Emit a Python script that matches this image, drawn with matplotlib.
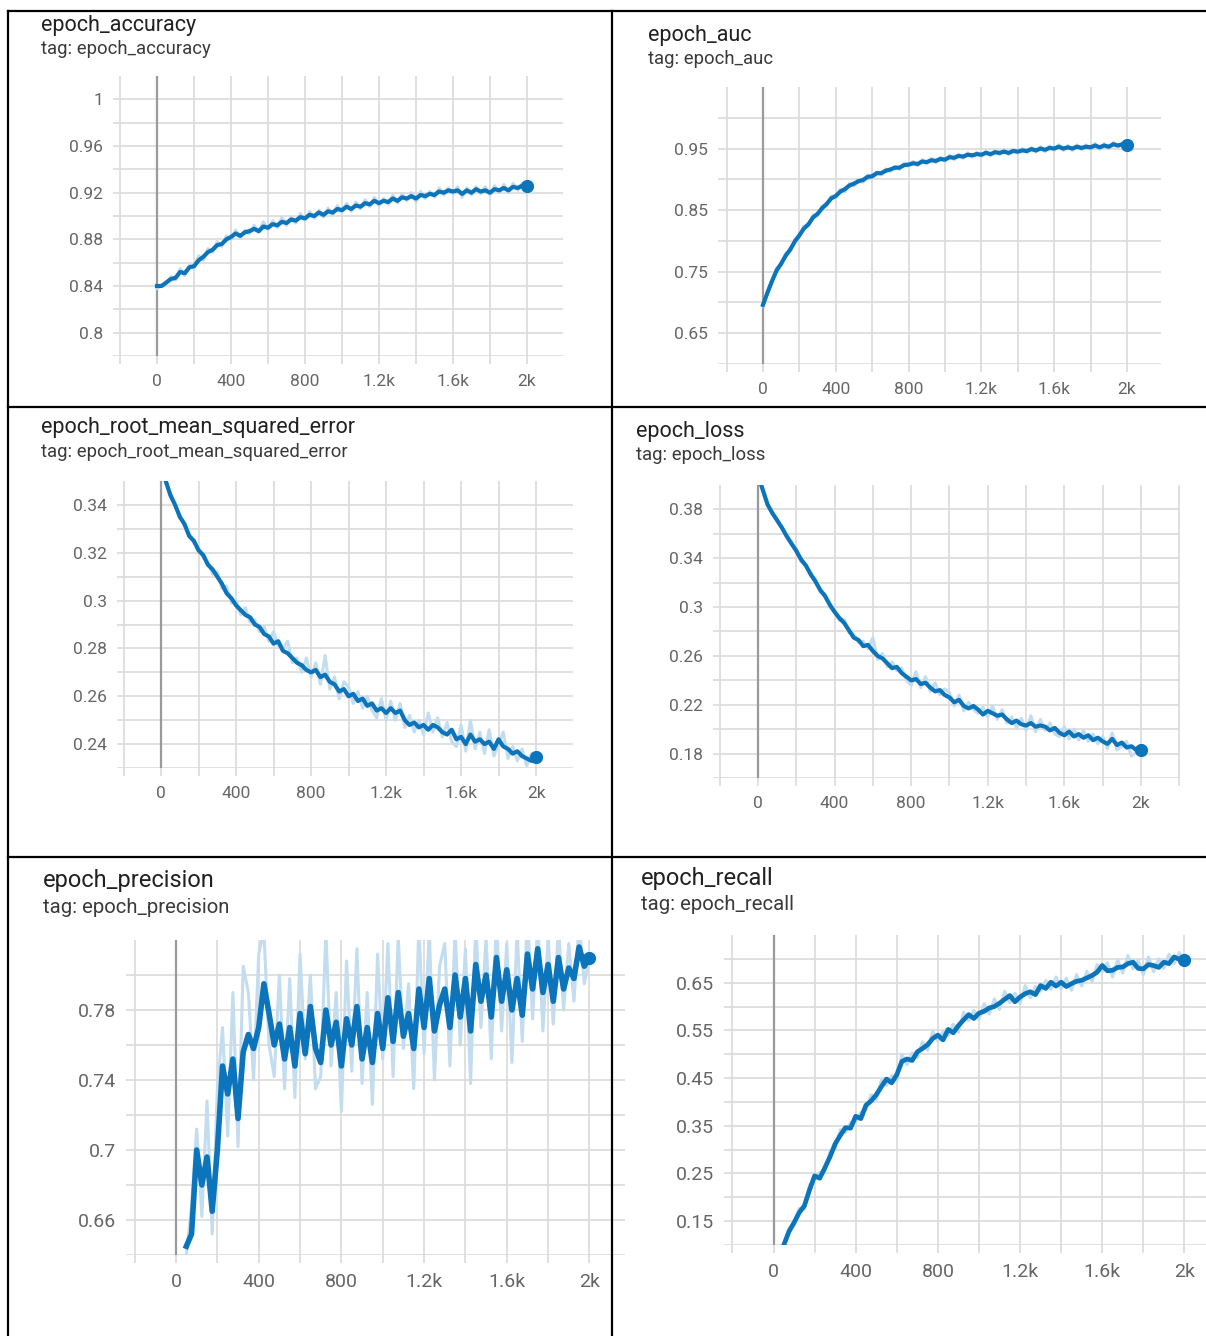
import matplotlib.pyplot as plt
from matplotlib.lines import Line2D

plt.rcParams['font.family'] = ['Roboto', 'DejaVu Sans']

# steps of the logged points
steps = list(range(0, 2001, 25))
steps_late = list(range(50, 2001, 25))

# epoch_accuracy (smoothed / raw)
acc_smooth = [0.840, 0.840, 0.843, 0.846, 0.847, 0.852, 0.851, 0.856, 0.857, 0.862,
              0.865, 0.869, 0.871, 0.875, 0.876, 0.880, 0.882, 0.885, 0.883, 0.886,
              0.887, 0.889, 0.887, 0.891, 0.890, 0.893, 0.892, 0.895, 0.894, 0.897,
              0.896, 0.899, 0.898, 0.901, 0.900, 0.903, 0.901, 0.904, 0.903, 0.906,
              0.905, 0.908, 0.906, 0.909, 0.908, 0.911, 0.910, 0.913, 0.911, 0.913,
              0.912, 0.915, 0.913, 0.916, 0.915, 0.917, 0.915, 0.918, 0.917, 0.919,
              0.918, 0.921, 0.920, 0.922, 0.921, 0.922, 0.919, 0.922, 0.920, 0.923,
              0.921, 0.922, 0.920, 0.923, 0.922, 0.924, 0.922, 0.925, 0.924, 0.926,
              0.926]
acc_raw = [0.838, 0.841, 0.842, 0.848, 0.845, 0.855, 0.849, 0.858, 0.855, 0.866,
           0.862, 0.872, 0.869, 0.878, 0.874, 0.883, 0.880, 0.888, 0.881, 0.888,
           0.885, 0.892, 0.886, 0.895, 0.888, 0.896, 0.890, 0.899, 0.892, 0.899,
           0.894, 0.902, 0.896, 0.904, 0.898, 0.905, 0.899, 0.907, 0.901, 0.909,
           0.903, 0.911, 0.904, 0.912, 0.906, 0.914, 0.908, 0.916, 0.909, 0.915,
           0.910, 0.918, 0.911, 0.919, 0.913, 0.920, 0.912, 0.921, 0.915, 0.921,
           0.916, 0.924, 0.918, 0.924, 0.919, 0.925, 0.916, 0.924, 0.918, 0.925,
           0.919, 0.925, 0.918, 0.926, 0.920, 0.927, 0.920, 0.928, 0.922, 0.928,
           0.926]

# epoch_auc
auc_smooth = [0.696, 0.716, 0.735, 0.752, 0.763, 0.776, 0.786, 0.799, 0.809, 0.820,
              0.827, 0.838, 0.844, 0.853, 0.860, 0.869, 0.873, 0.880, 0.884, 0.890,
              0.893, 0.897, 0.899, 0.904, 0.905, 0.910, 0.910, 0.914, 0.916, 0.919,
              0.919, 0.923, 0.924, 0.926, 0.925, 0.929, 0.928, 0.931, 0.930, 0.933,
              0.932, 0.936, 0.935, 0.938, 0.937, 0.940, 0.939, 0.941, 0.940, 0.943,
              0.941, 0.944, 0.943, 0.945, 0.943, 0.946, 0.945, 0.947, 0.946, 0.949,
              0.947, 0.950, 0.948, 0.951, 0.950, 0.953, 0.950, 0.952, 0.950, 0.953,
              0.951, 0.953, 0.952, 0.955, 0.952, 0.955, 0.953, 0.957, 0.955, 0.957,
              0.956]
auc_raw = [0.694, 0.719, 0.732, 0.756, 0.761, 0.780, 0.784, 0.803, 0.807, 0.824,
           0.824, 0.842, 0.841, 0.857, 0.857, 0.873, 0.870, 0.884, 0.880, 0.893,
           0.889, 0.900, 0.895, 0.907, 0.901, 0.912, 0.907, 0.917, 0.913, 0.921,
           0.916, 0.926, 0.921, 0.929, 0.922, 0.932, 0.925, 0.934, 0.927, 0.936,
           0.929, 0.939, 0.932, 0.941, 0.934, 0.943, 0.936, 0.944, 0.937, 0.946,
           0.938, 0.947, 0.940, 0.948, 0.940, 0.949, 0.942, 0.950, 0.943, 0.952,
           0.944, 0.953, 0.945, 0.954, 0.947, 0.956, 0.947, 0.955, 0.947, 0.956,
           0.948, 0.956, 0.949, 0.958, 0.949, 0.958, 0.950, 0.960, 0.952, 0.959,
           0.956]

# epoch_root_mean_squared_error
rmse_smooth = [0.356, 0.350, 0.344, 0.340, 0.335, 0.332, 0.327, 0.325, 0.321, 0.319,
               0.315, 0.313, 0.310, 0.307, 0.303, 0.301, 0.298, 0.296, 0.294, 0.293,
               0.290, 0.289, 0.286, 0.285, 0.282, 0.283, 0.279, 0.278, 0.276, 0.274,
               0.273, 0.271, 0.270, 0.271, 0.268, 0.269, 0.266, 0.265, 0.262, 0.263,
               0.260, 0.261, 0.258, 0.259, 0.256, 0.257, 0.254, 0.255, 0.253, 0.255,
               0.253, 0.254, 0.250, 0.248, 0.249, 0.247, 0.248, 0.246, 0.248, 0.247,
               0.245, 0.244, 0.246, 0.242, 0.243, 0.240, 0.244, 0.241, 0.242, 0.240,
               0.241, 0.238, 0.242, 0.239, 0.238, 0.236, 0.237, 0.235, 0.234, 0.233,
               0.2345]
rmse_raw = [0.357, 0.349, 0.345, 0.339, 0.336, 0.331, 0.328, 0.324, 0.322, 0.318,
            0.316, 0.311, 0.312, 0.305, 0.306, 0.299, 0.300, 0.294, 0.297, 0.291,
            0.292, 0.287, 0.289, 0.283, 0.287, 0.281, 0.280, 0.283, 0.274, 0.276,
            0.270, 0.276, 0.268, 0.274, 0.265, 0.277, 0.263, 0.268, 0.259, 0.266,
            0.264, 0.257, 0.262, 0.255, 0.260, 0.254, 0.251, 0.259, 0.250, 0.258,
            0.250, 0.257, 0.247, 0.252, 0.245, 0.250, 0.244, 0.253, 0.245, 0.251,
            0.243, 0.249, 0.241, 0.239, 0.248, 0.237, 0.250, 0.238, 0.245, 0.236,
            0.246, 0.235, 0.240, 0.245, 0.234, 0.239, 0.233, 0.238, 0.231, 0.236,
            0.2345]

# epoch_loss
loss_smooth = [0.408, 0.396, 0.384, 0.377, 0.371, 0.365, 0.358, 0.352, 0.346, 0.339,
               0.334, 0.327, 0.321, 0.314, 0.309, 0.302, 0.296, 0.291, 0.287, 0.281,
               0.275, 0.273, 0.268, 0.269, 0.264, 0.260, 0.258, 0.254, 0.250, 0.251,
               0.246, 0.243, 0.240, 0.241, 0.237, 0.238, 0.234, 0.231, 0.232, 0.228,
               0.226, 0.222, 0.224, 0.219, 0.217, 0.219, 0.216, 0.212, 0.215, 0.213,
               0.211, 0.212, 0.208, 0.205, 0.207, 0.204, 0.203, 0.205, 0.202, 0.203,
               0.202, 0.199, 0.201, 0.197, 0.195, 0.198, 0.194, 0.196, 0.193, 0.195,
               0.191, 0.193, 0.190, 0.188, 0.192, 0.187, 0.189, 0.185, 0.186, 0.183,
               0.183]
loss_raw = [0.409, 0.395, 0.385, 0.376, 0.372, 0.364, 0.359, 0.351, 0.348, 0.337,
            0.335, 0.325, 0.323, 0.312, 0.311, 0.300, 0.298, 0.289, 0.290, 0.279,
            0.278, 0.271, 0.272, 0.266, 0.275, 0.257, 0.262, 0.251, 0.255, 0.248,
            0.250, 0.240, 0.236, 0.247, 0.234, 0.243, 0.231, 0.238, 0.228, 0.233,
            0.230, 0.219, 0.228, 0.215, 0.222, 0.216, 0.213, 0.218, 0.210, 0.219,
            0.208, 0.216, 0.205, 0.210, 0.201, 0.209, 0.199, 0.211, 0.198, 0.208,
            0.199, 0.205, 0.196, 0.194, 0.202, 0.192, 0.200, 0.191, 0.199, 0.190,
            0.196, 0.188, 0.194, 0.184, 0.197, 0.183, 0.186, 0.190, 0.178, 0.181,
            0.183]

# epoch_precision (starts at step 50)
prec_smooth = [0.645, 0.652, 0.700, 0.680, 0.696, 0.665, 0.700, 0.748, 0.732, 0.752,
               0.718, 0.756, 0.766, 0.758, 0.770, 0.795, 0.778, 0.760, 0.772, 0.752,
               0.770, 0.748, 0.778, 0.755, 0.782, 0.758, 0.750, 0.780, 0.760, 0.773,
               0.748, 0.775, 0.760, 0.782, 0.752, 0.770, 0.750, 0.778, 0.758, 0.787,
               0.762, 0.790, 0.765, 0.778, 0.758, 0.792, 0.770, 0.798, 0.768, 0.783,
               0.792, 0.770, 0.800, 0.776, 0.798, 0.768, 0.806, 0.785, 0.800, 0.776,
               0.810, 0.785, 0.803, 0.780, 0.798, 0.777, 0.812, 0.792, 0.815, 0.790,
               0.806, 0.785, 0.810, 0.792, 0.804, 0.798, 0.816, 0.805,
               0.810]
prec_raw = [0.640, 0.668, 0.712, 0.662, 0.728, 0.652, 0.735, 0.770, 0.708, 0.790,
            0.702, 0.805, 0.790, 0.740, 0.812, 0.825, 0.760, 0.742, 0.800, 0.735,
            0.798, 0.730, 0.812, 0.752, 0.800, 0.735, 0.742, 0.825, 0.748, 0.790,
            0.722, 0.808, 0.745, 0.815, 0.738, 0.790, 0.726, 0.812, 0.752, 0.818,
            0.742, 0.822, 0.758, 0.795, 0.735, 0.828, 0.755, 0.826, 0.740, 0.805,
            0.818, 0.748, 0.825, 0.760, 0.815, 0.738, 0.830, 0.770, 0.822, 0.752,
            0.832, 0.768, 0.818, 0.750, 0.826, 0.762, 0.835, 0.775, 0.830, 0.768,
            0.822, 0.772, 0.828, 0.780, 0.818, 0.785, 0.830, 0.795,
            0.810]

# epoch_recall (starts at step 50)
rec_smooth = [0.100, 0.128, 0.147, 0.168, 0.182, 0.215, 0.245, 0.240, 0.262, 0.285,
              0.312, 0.330, 0.346, 0.345, 0.370, 0.365, 0.393, 0.402, 0.415, 0.432,
              0.448, 0.440, 0.457, 0.485, 0.490, 0.487, 0.505, 0.512, 0.520, 0.533,
              0.540, 0.530, 0.552, 0.545, 0.560, 0.572, 0.583, 0.575, 0.586, 0.590,
              0.597, 0.600, 0.607, 0.615, 0.623, 0.610, 0.620, 0.627, 0.631, 0.625,
              0.644, 0.638, 0.651, 0.643, 0.651, 0.642, 0.648, 0.653, 0.655, 0.660,
              0.665, 0.672, 0.686, 0.675, 0.676, 0.682, 0.683, 0.690, 0.693, 0.680,
              0.679, 0.688, 0.686, 0.682, 0.693, 0.690, 0.704, 0.699,
              0.697]
rec_raw = [0.098, 0.135, 0.141, 0.177, 0.176, 0.226, 0.236, 0.252, 0.255, 0.296,
           0.302, 0.342, 0.336, 0.357, 0.358, 0.378, 0.383, 0.415, 0.405, 0.446,
           0.435, 0.455, 0.445, 0.500, 0.478, 0.503, 0.493, 0.526, 0.508, 0.548,
           0.528, 0.548, 0.538, 0.563, 0.546, 0.588, 0.570, 0.592, 0.573, 0.606,
           0.584, 0.616, 0.594, 0.632, 0.608, 0.628, 0.606, 0.644, 0.618, 0.642,
           0.632, 0.655, 0.636, 0.662, 0.637, 0.660, 0.634, 0.667, 0.643, 0.674,
           0.652, 0.688, 0.672, 0.692, 0.662, 0.698, 0.670, 0.707, 0.679, 0.697,
           0.667, 0.704, 0.673, 0.700, 0.680, 0.710, 0.690, 0.713,
           0.697]

x_ticks = list(range(-200, 2201, 200))
x_tick_labels = ['', '0', '', '400', '', '800', '', '1.2k', '', '1.6k', '', '2k', '']

DARK = '#0b74bb'
LIGHT = '#c2dcf0'
GRID = '#dadada'

W, H = 1206, 1336
fig = plt.figure(figsize=(W / 100, H / 100), dpi=100)


def panel(box, xlim, ylim, yticks, ylabels, ygrid, x, raw, smooth,
          title, title_xy, fs=12.5, tfs=15.5, lw=3.0):
    l, t, r, b = box
    ax = fig.add_axes([l / W, 1 - b / H, (r - l) / W, (b - t) / H])
    ax.plot(x, raw, color=LIGHT, lw=2.2, zorder=2)
    ax.plot(x, smooth, color=DARK, lw=lw, zorder=3)
    ax.plot(x[-1], smooth[-1], 'o', color=DARK, ms=8.5, zorder=4, clip_on=False)
    ax.axvline(0, color='#9a9a9a', lw=1.6, zorder=1)
    ax.set_xticks(x_ticks)
    ax.set_xticklabels(x_tick_labels)
    ax.set_yticks(yticks)
    ax.set_yticklabels(ylabels)
    ax.set_yticks([v for v in ygrid if v not in yticks], minor=True)
    # limits after the ticks, set_xticks would widen the view
    ax.set_xlim(xlim)
    ax.set_ylim(ylim)
    ax.grid(True, which='both', color=GRID, lw=1.2, zorder=0)
    ax.set_axisbelow(True)
    for s in ax.spines.values():
        s.set_visible(False)
    ax.tick_params(axis='x', length=6, width=1.2, color=GRID, labelcolor='#666666',
                   labelsize=fs, pad=7)
    ax.tick_params(axis='y', which='both', length=0, labelcolor='#666666',
                   labelsize=fs, pad=7)
    tx, ty = title_xy
    fig.text(tx / W, 1 - ty / H, title, fontsize=tfs, color='#212121', va='center')
    fig.text(tx / W, 1 - (ty + 24 * tfs / 15.5) / H, 'tag: ' + title,
             fontsize=tfs * 0.86, color='#3a3a3a', va='center')
    return ax


panel((113, 76, 563, 356), (-238, 2195), (0.78, 1.02),
      [0.8, 0.84, 0.88, 0.92, 0.96, 1.0], ['0.8', '0.84', '0.88', '0.92', '0.96', '1'],
      [0.78, 0.80, 0.82, 0.84, 0.86, 0.88, 0.90, 0.92, 0.94, 0.96, 0.98, 1.0],
      steps, acc_raw, acc_smooth, 'epoch_accuracy', (41, 25))

panel((718, 87, 1161, 364), (-247, 2187), (0.60, 1.05),
      [0.65, 0.75, 0.85, 0.95], ['0.65', '0.75', '0.85', '0.95'],
      [0.60, 0.65, 0.70, 0.75, 0.80, 0.85, 0.90, 0.95, 1.00],
      steps, auc_raw, auc_smooth, 'epoch_auc', (648, 35))

panel((117, 481, 573, 768), (-235, 2197), (0.23, 0.35),
      [0.24, 0.26, 0.28, 0.30, 0.32, 0.34], ['0.24', '0.26', '0.28', '0.3', '0.32', '0.34'],
      [0.23, 0.24, 0.25, 0.26, 0.27, 0.28, 0.29, 0.30, 0.31, 0.32, 0.33, 0.34],
      steps, rmse_raw, rmse_smooth, 'epoch_root_mean_squared_error', (41, 428))

panel((713, 485, 1180, 778), (-235, 2204), (0.16, 0.40),
      [0.18, 0.22, 0.26, 0.30, 0.34, 0.38], ['0.18', '0.22', '0.26', '0.3', '0.34', '0.38'],
      [0.16, 0.18, 0.20, 0.22, 0.24, 0.26, 0.28, 0.30, 0.32, 0.34, 0.36, 0.38],
      steps, loss_raw, loss_smooth, 'epoch_loss', (636, 431))

panel((126, 940, 625, 1255), (-242, 2172), (0.64, 0.82),
      [0.66, 0.70, 0.74, 0.78], ['0.66', '0.7', '0.74', '0.78'],
      [0.64, 0.66, 0.68, 0.70, 0.72, 0.74, 0.76, 0.78, 0.80],
      steps_late, prec_raw, prec_smooth, 'epoch_precision', (43, 881),
      fs=14, tfs=17, lw=4.0)

panel((724, 935, 1206, 1245), (-241, 2105), (0.10, 0.75),
      [0.15, 0.25, 0.35, 0.45, 0.55, 0.65], ['0.15', '0.25', '0.35', '0.45', '0.55', '0.65'],
      [0.10, 0.15, 0.20, 0.25, 0.30, 0.35, 0.40, 0.45, 0.50, 0.55, 0.60, 0.65, 0.70],
      steps_late, rec_raw, rec_smooth, 'epoch_recall', (641, 878),
      fs=14, tfs=17, lw=3.4)

# table borders of the screenshot
border = dict(color='black', lw=1.6, zorder=10)
for xa, ya, xb, yb in [(8, 11, 1206, 11), (8, 407, 1206, 407), (8, 857, 1206, 857),
                       (8, 11, 8, 1336), (612, 11, 612, 1336)]:
    fig.add_artist(Line2D([xa / W, xb / W], [1 - ya / H, 1 - yb / H],
                          transform=fig.transFigure, **border))

plt.savefig('out.png', dpi=100)
